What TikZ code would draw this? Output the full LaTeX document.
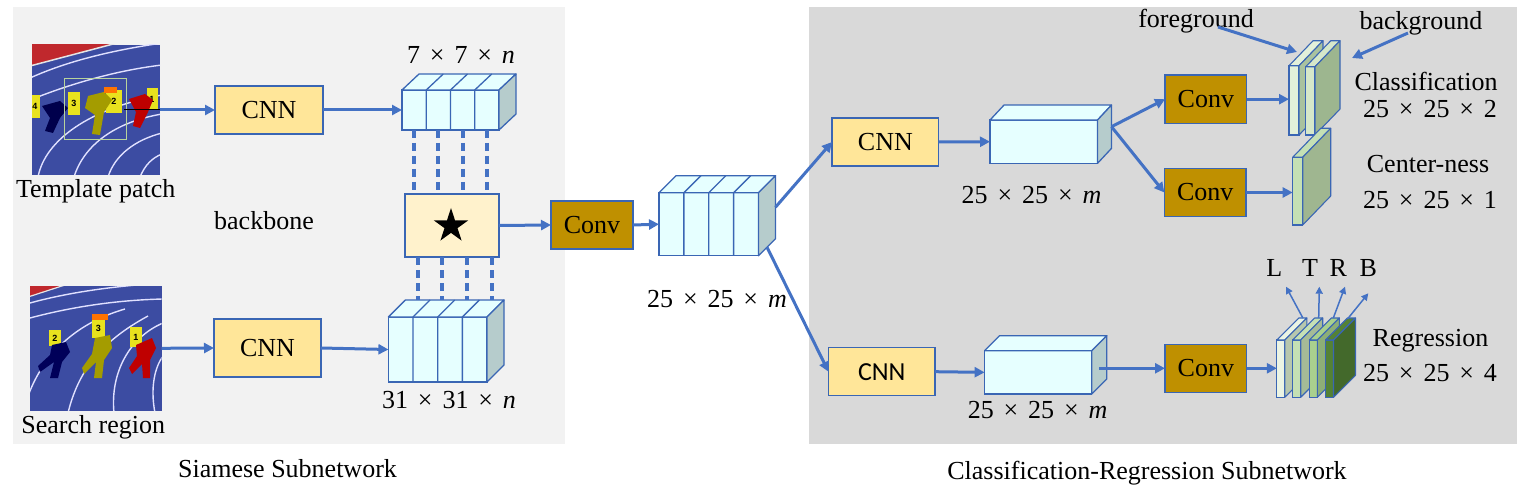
\documentclass[tikz,border=0pt]{standalone}
\usepackage{fontspec}
\setmainfont{Liberation Serif}
\newfontfamily\calibri{Carlito}
\newfontfamily\photofont{Liberation Sans}
\usetikzlibrary{arrows.meta,calc,shapes.geometric}

\definecolor{panelL}{HTML}{F2F2F2}
\definecolor{panelR}{HTML}{D9D9D9}
\definecolor{arrowblue}{HTML}{4472C4}
\definecolor{edgeblue}{HTML}{3A66B4}
\definecolor{cnnfill}{HTML}{FFE699}
\definecolor{convfill}{HTML}{BF9000}
\definecolor{starfill}{HTML}{FFF2CC}
\definecolor{cubefill}{HTML}{E6FFFF}
\definecolor{cubeside}{HTML}{B6CCCC}
\definecolor{trackblue}{HTML}{3C4CA2}
\definecolor{trackred}{HTML}{C0282D}
\definecolor{boardy}{HTML}{E8E21E}
\definecolor{boxgreen}{HTML}{B8D49C}
\definecolor{sA}{HTML}{E3F0DA}
\definecolor{sAs}{HTML}{A9C29F}
\definecolor{sB}{HTML}{D6E8CA}
\definecolor{sBs}{HTML}{9DB68F}
\definecolor{sC}{HTML}{C5E0B4}
\definecolor{sCs}{HTML}{9FB690}
\definecolor{r1}{HTML}{EBF4E4}
\definecolor{r1s}{HTML}{B7C7AD}
\definecolor{r2}{HTML}{C5E0B4}
\definecolor{r2s}{HTML}{A5BB97}
\definecolor{r3}{HTML}{A9D08E}
\definecolor{r3s}{HTML}{8DAE77}
\definecolor{r4}{HTML}{548235}
\definecolor{r4s}{HTML}{43692B}

\newcommand\dims[3]{#1\hspace{0.38em}×\hspace{0.38em}#2\hspace{0.38em}×\hspace{0.38em}#3}
\newcommand\mkcube[6]{%
  \node[cubefront, minimum width=#3pt, minimum height=#4pt] (#1) at (#2) {};
  \filldraw[cubeedge, fill=cubefill] (#1.north west) -- ++(#5,-#6) -- ++(#3,0) -- (#1.north east) -- cycle;
  \filldraw[cubeedge, fill=cubeside] (#1.north east) -- ++(#5,-#6) -- ++(0,#4) -- (#1.south east) -- cycle;
}
\newcommand\cubedivs[3]{%
  \foreach \f in {0.25,0.5,0.75}{%
    \draw[cubeedge] ($(#1.south west)!\f!(#1.south east)$) -- ($(#1.north west)!\f!(#1.north east)$) -- ++(#2,-#3);
  }%
}
\newcommand\mkslab[8]{%
  \node[cubefront, line width=1.1pt, fill=#7, minimum width=#3pt, minimum height=#4pt] (#1) at (#2) {};
  \filldraw[cubeedge, line width=1.1pt, fill=#7] (#1.north west) -- ++(#5,-#6) -- ++(#3,0) -- (#1.north east) -- cycle;
  \filldraw[cubeedge, line width=1.1pt, fill=#8] (#1.north east) -- ++(#5,-#6) -- ++(0,#4) -- (#1.south east) -- cycle;
}

\begin{document}
\begin{tikzpicture}[x=1pt,y=-1pt,
  every node/.style={inner sep=0pt, outer sep=0pt},
  lbl/.style={font=\fontsize{26}{30}\selectfont, anchor=base},
  procbox/.style={draw=edgeblue, line width=1.3pt, font=\fontsize{26}{30}\selectfont},
  cnnbox/.style={procbox, fill=cnnfill},
  convbox/.style={procbox, fill=convfill},
  cubefront/.style={draw=edgeblue, line width=1.3pt, fill=cubefill},
  cubeedge/.style={draw=edgeblue, line width=1.3pt, line join=round},
  arr/.style={draw=arrowblue, line width=3pt, -{Triangle[length=10pt,width=10pt]}},
  thinarr/.style={draw=arrowblue, line width=1.5pt, -{Triangle[length=7pt,width=7pt]}},
  dsh/.style={draw=arrowblue, line width=4pt, dash pattern=on 8pt off 5pt},
  lane/.style={draw=white!88!blue, line width=1.4pt},
  num/.style={font=\photofont\bfseries\fontsize{9}{9}\selectfont, text=black},
]
\useasboundingbox (0,0) rectangle (1529,489);
\fill[white] (0,0) rectangle (1529,489);
\fill[panelL] (13,7) rectangle (565,444);
\fill[panelR] (809,7) rectangle (1517,444);

% ---------- template patch photo ----------
\node[fill=trackblue, minimum width=128pt, minimum height=130pt] (tmpl) at (96,110) {};
\begin{scope}
  \clip (tmpl.south west) rectangle (tmpl.north east);
  \fill[trackred] (30,43) -- (117,43) -- (30,66) -- cycle;
  \draw[white!80!gray, line width=1.5pt] (30,66) -- (117,43);
  \draw[lane] (30,78) .. controls (70,60) and (115,50) .. (162,43);
  \draw[lane] (30,100) .. controls (75,82) and (120,70) .. (162,65);
  \draw[lane] (38,177) .. controls (45,140) and (90,108) .. (162,95);
  \draw[lane] (74,177) .. controls (84,145) and (115,122) .. (162,114);
  \draw[lane] (108,177) .. controls (115,155) and (135,140) .. (162,133);
  \draw[lane] (140,177) .. controls (145,165) and (152,158) .. (162,154);
  \fill[boardy] (30,95) rectangle (40,118);
  \fill[boardy] (68,92) rectangle (80,115);
  \fill[boardy] (106,90) rectangle (122,113);
  \fill[boardy] (147,88) rectangle (158,110);
  \node[num] (tn4) at (35,106) {4};
  \node[num] (tn3) at (74,103) {3};
  \node[num] (tn2) at (114,101) {2};
  \node[num] (tn1) at (152,99) {1};
  \fill[black!70!blue] (42,106) -- (60,101) -- (68,108) -- (60,118) -- (53,133) -- (45,131) -- (50,118) -- cycle;
  \fill[olive!80!yellow] (88,96) -- (104,92) -- (112,100) -- (104,112) -- (100,135) -- (92,134) -- (95,115) -- (85,108) -- cycle;
  \fill[orange!90!red] (104,87) rectangle (117,93);
  \fill[red!75!black] (129,99) -- (145,94) -- (153,100) -- (148,112) -- (140,128) -- (133,126) -- (136,112) -- cycle;
\end{scope}
\draw[boxgreen, line width=1pt] (64.3,78.3) rectangle (126.7,140);
\draw[black, line width=0.8pt] (124,109) -- (160,109);

% ---------- search region photo ----------
\node[fill=trackblue, minimum width=131.7pt, minimum height=124.6pt] (srch) at (95.85,348.3) {};
\begin{scope}
  \clip (srch.south west) rectangle (srch.north east);
  \fill[trackred] (28,284) -- (68,284) -- (28,297) -- cycle;
  \draw[white!80!gray, line width=1.2pt] (28,297) -- (68,284);
  \draw[lane] (30,303) .. controls (70,292) and (115,286) .. (163,283);
  \draw[lane] (30,318) .. controls (75,306) and (120,300) .. (163,299);
  \draw[lane] (28,396) .. controls (45,350) and (80,322) .. (125,309);
  \draw[lane] (68,413) .. controls (78,372) and (100,342) .. (148,316);
  \draw[lane] (114,413) .. controls (110,372) and (130,337) .. (163,323);
  \draw[lane] (155,413) .. controls (150,387) and (155,367) .. (163,356);
  \fill[boardy] (49,330) rectangle (61,346);
  \fill[boardy] (92,318) rectangle (105,338);
  \fill[boardy] (130,327) rectangle (142,347);
  \node[num] (sn2) at (55,338) {2};
  \node[num] (sn3) at (98.5,328) {3};
  \node[num] (sn1) at (136,337) {1};
  \fill[orange!90!red] (92,314) rectangle (108,320);
  \fill[black!65!blue] (52,345) -- (66,342) -- (70,352) -- (62,362) -- (58,378) -- (50,378) -- (54,362) -- (40,372) -- (38,366) -- (50,355) -- cycle;
  \fill[olive!80!yellow] (95,338) -- (110,335) -- (112,348) -- (104,360) -- (102,378) -- (94,378) -- (96,362) -- (84,374) -- (82,368) -- (92,354) -- cycle;
  \fill[red!75!black] (136,345) -- (152,338) -- (156,348) -- (150,360) -- (150,378) -- (143,378) -- (142,364) -- (132,374) -- (129,368) -- (137,356) -- cycle;
\end{scope}

% ---------- left labels ----------
\node[lbl] (ltmpl) at (95.7,198) {Template patch};
\node[lbl] (lsrch) at (93.2,433) {Search region};
\node[lbl] (lback) at (264,230) {backbone};
\node[lbl] (lsiam) at (287.5,477) {Siamese Subnetwork};

% ---------- siamese backbone ----------
\node[cnnbox, minimum width=108pt, minimum height=48pt] (cnnA) at (269,110) {CNN};
\node[cnnbox, minimum width=107pt, minimum height=58pt] (cnnB) at (267.5,348) {CNN};

\mkcube{c1}{450.5,110}{97}{40}{17}{16}
\cubedivs{c1}{17}{16}
\mkcube{c2}{437.7,349.5}{98.6}{65}{17}{17}
\cubedivs{c2}{17}{17}

\node[lbl] (l7) at (461,64) {\dims{7}{7}{\textit{n}}};
\node[lbl] (l31) at (449,408) {\dims{31}{31}{\textit{n}}};

\node[procbox, fill=starfill, minimum width=94pt, minimum height=63pt] (corr) at (452,225.5) {};
\node[star, star points=5, star point ratio=2.618, fill=black, minimum size=36pt] (starsym) at (451,226) {};

\foreach \f in {0.125,0.375,0.625,0.875}{%
  \path ($(c1.south west)!\f!(c1.south east)$) coordinate (p);
  \draw[dsh] (p) -- (p |- corr.north);
  \path ($(c2.north west)!\f!(c2.north east)+(17,-17)$) coordinate (q);
  \draw[dsh] (q |- corr.south) -- (q);
}

\draw[arr] (tmpl.east) -- (cnnA.west);
\draw[arr] (cnnA.east) -- (c1.west);
\draw[arr] (srch.east) -- (cnnB.west);
\draw[arr] (cnnB.east) -- (c2.west);

% ---------- middle ----------
\node[convbox, minimum width=82pt, minimum height=48pt] (conv1) at (592,225) {Conv};
\mkcube{c3}{708.75,224.2}{99.5}{63}{17}{17}
\cubedivs{c3}{17}{17}
\node[lbl] (l25a) at (717,307) {\dims{25}{25}{\textit{m}}};
\draw[arr] (corr.east) -- (conv1.west);
\draw[arr] (conv1.east) -- (c3.west);

% ---------- right branch ----------
\node[cnnbox, minimum width=106.7pt, minimum height=48pt] (cnnC) at (885.35,142) {CNN};
\node[cnnbox, minimum width=106.5pt, minimum height=48pt, font=\calibri\fontsize{26}{30}\selectfont] (cnnD) at (881.75,371.7) {CNN};
\coordinate (c3up) at ($(c3.east)+(17,-17)$);
\coordinate (c3dn) at ($(c3.south east)+(8.5,-8.5)$);
\draw[arr] (c3up) -- (cnnC.west);
\draw[arr] (c3dn) -- (cnnD.west);

\mkcube{c4}{1043.75,141.7}{107.5}{43.3}{14}{15}
\mkcube{c5}{1038.2,372.35}{107.2}{43.3}{15}{15}
\node[lbl] (l25b) at (1031.5,203.5) {\dims{25}{25}{\textit{m}}};
\node[lbl] (l25c) at (1037.6,418) {\dims{25}{25}{\textit{m}}};
\draw[arr] (cnnC.east) -- (c4.west);
\draw[arr] (cnnD.east) -- (c5.west);

\node[convbox, minimum width=81.7pt, minimum height=48.3pt] (conv2) at (1205.85,99.2) {Conv};
\node[convbox, minimum width=81.7pt, minimum height=48.3pt] (conv3) at (1205.2,192.5) {Conv};
\node[convbox, minimum width=81.7pt, minimum height=48pt] (conv4) at (1205.85,368.3) {Conv};
\coordinate (c4s) at ($(c4.east)+(14,-15)$);
\coordinate (c5s) at ($(c5.east)+(7.5,-7.5)$);
\draw[arr] (c4s) -- (conv2.west);
\draw[arr] (c4s) -- (conv3.west);
\draw[arr] (c5s |- conv4.west) -- (conv4.west);

% classification slabs
\mkslab{sa}{1294,100.4}{10}{69.3}{24}{25}{sA}{sAs}
\mkslab{sb}{1310.35,100.9}{9.3}{68.3}{25}{26}{sB}{sBs}
% center-ness slab
\mkslab{sc}{1297.7,191.15}{10}{67.7}{28}{29}{sC}{sCs}
% regression slabs
\mkslab{ra}{1280.85,368.65}{8}{57.3}{22}{22}{r1}{r1s}
\mkslab{rb}{1296.7,368.65}{8}{57.3}{22}{22}{r2}{r2s}
\mkslab{rc}{1313.3,368.65}{8}{57.3}{22}{22}{r3}{r3s}
\mkslab{rd}{1329.5,368.65}{8}{57.3}{22}{22}{r4}{r4s}

\draw[arr] (conv2.east) -- (conv2.east -| sa.west);
\draw[arr] (conv3.east) -- (conv3.east -| sc.west);
\draw[arr] (conv4.east) -- (conv4.east -| ra.west);

% labels right
\node[lbl] (lfg) at (1196,28) {foreground};
\node[lbl] (lbg) at (1421,30) {background};
\coordinate (fgS) at (1218,27);
\coordinate (fgE) at (1297,52);
\coordinate (bgS) at (1408,33);
\coordinate (bgE) at (1352,58);
\draw[arr] (fgS) -- (fgE);
\draw[arr] (bgS) -- (bgE);

\node[lbl] (lcls) at (1426,90.7) {Classification};
\node[lbl] (lcls2) at (1430,117.3) {\dims{25}{25}{2}};
\node[lbl] (lcen) at (1428,172.7) {Center-ness};
\node[lbl] (lcen2) at (1430,208.3) {\dims{25}{25}{1}};
\node[lbl] (lreg) at (1430.5,346) {Regression};
\node[lbl] (lreg2) at (1430,381.7) {\dims{25}{25}{4}};

\node[lbl] (lL) at (1274.3,276.7) {L};
\node[lbl] (lT) at (1310,276.7) {T};
\node[lbl] (lR) at (1338.3,276.7) {R};
\node[lbl] (lB) at (1368.3,276.7) {B};
\coordinate (eL) at (1286,286.7);
\coordinate (eT) at (1319.3,286.7);
\coordinate (eR) at (1345,286.7);
\coordinate (eB) at (1368.3,293.3);
\draw[thinarr] ($(ra.north)+(22,-22)$) -- (eL);
\draw[thinarr] ($(rb.north)+(22,-22)$) -- (eT);
\draw[thinarr] ($(rc.north)+(20,-22)$) -- (eR);
\draw[thinarr] ($(rd.north)+(18,-21)$) -- (eB);

\node[lbl] (lcrs) at (1147,479) {Classification-Regression Subnetwork};
\end{tikzpicture}
\end{document}
